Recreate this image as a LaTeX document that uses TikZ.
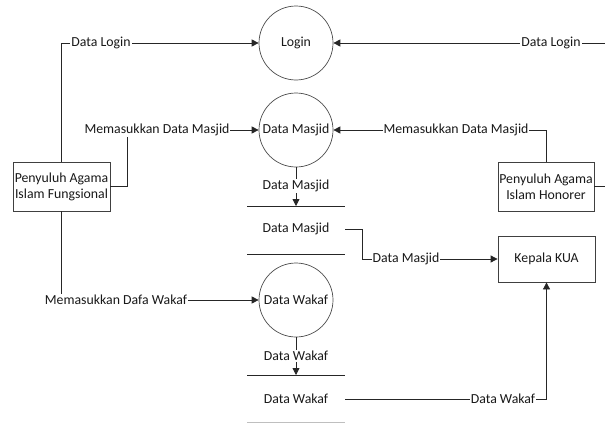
\documentclass[tikz,border=0pt]{standalone}
\usepackage{fontspec}
\setmainfont{Carlito}
\usetikzlibrary{arrows.meta}
\begin{document}
\begin{tikzpicture}[x=1pt,y=-1pt,
  every node/.style={font=\fontsize{13.8}{16}\selectfont, text=black!90},
  proc/.style={circle, draw=black!70, line width=0.7pt, minimum size=74pt, inner sep=0pt},
  ent/.style={rectangle, draw=black!75, line width=0.8pt, align=center, inner sep=1pt},
  flow/.style={draw=black!85, line width=0.8pt, -{Triangle[length=7pt,width=7pt]}},
  lbl/.style={fill=white, inner sep=1pt},
  storeline/.style={draw=black!85, line width=0.8pt}]
\useasboundingbox (0,0) rectangle (605,423);
\clip (0,0) rectangle (605,423);
% processes
\node[proc] (login) at (296,43) {Login};
\node[proc] (dm) at (296,130) {Data Masjid};
\node[proc] (dw) at (296,300) {Data Wakaf};
% entities
\node[ent, minimum width=97pt, minimum height=49pt] (fung) at (61.5,186.5) {Penyuluh Agama\\Islam Fungsional};
\node[ent, minimum width=96pt, minimum height=49pt] (hon) at (546,186.5) {Penyuluh Agama\\Islam Honorer};
\node[ent, minimum width=97pt, minimum height=46pt] (kua) at (546.5,259) {Kepala KUA};
% data stores
\draw[storeline] (247,206) -- (345,206);
\draw[storeline] (247,254) -- (345,254);
\node (dsm) at (296,229) {Data Masjid};
\coordinate (dsmtop) at (296,206);
\coordinate (dsmr) at (345,229);
\draw[storeline] (247,375) -- (345,375);
\draw[draw=black!25, line width=0.8pt] (247,422.5) -- (345,422.5);
\node (dsw) at (296,399) {Data Wakaf};
\coordinate (dswtop) at (296,375);
\coordinate (dswr) at (345,399);
% helper corners
\coordinate (c1) at (127,130);
\coordinate (c2) at (612,186.5);
\coordinate (c3) at (362,229);
% connectors
\draw[flow] (fung.north) |- (login.west);
\draw[flow] (fung.east) -| (c1) -- (dm.west);
\draw[flow] (fung.south) |- (dw.west);
\draw[flow] (hon.east) -- (c2) |- (login.east);
\draw[flow] (hon.north) |- (dm.east);
\draw[flow] (dm.south) -- (dsmtop);
\draw[flow] (dw.south) -- (dswtop);
\draw[flow] (dsmr) -- (c3) |- (kua.west);
\draw[flow] (dswr) -| (kua.south);
% labels
\node[lbl] (l1) at (101,43) {Data Login};
\node[lbl] (l2) at (551,43) {Data Login};
\node[lbl] (l3) at (157,130) {Memasukkan Data Masjid};
\node[lbl] (l4) at (456,130) {Memasukkan Data Masjid};
\node[lbl] (l5) at (116,300) {Memasukkan Dafa Wakaf};
\node[lbl] (l6) at (296,186) {Data Masjid};
\node[lbl] (l7) at (296,356) {Data Wakaf};
\node[lbl] (l8) at (406,258.5) {Data Masjid};
\node[lbl] (l9) at (503,399) {Data Wakaf};
\end{tikzpicture}
\end{document}
